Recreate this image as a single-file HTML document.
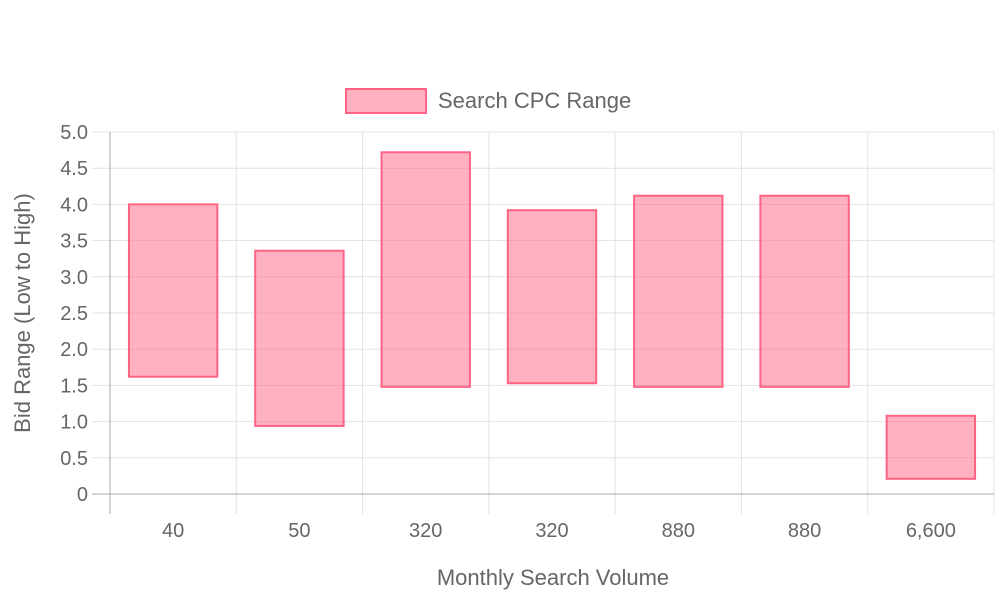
<!DOCTYPE html>
<html><head><meta charset="utf-8"><style>
html,body{margin:0;padding:0;background:#fff;}
svg{display:block;font-family:"Liberation Sans",sans-serif;}
</style></head><body>
<svg id="chart" width="1000" height="600">
<g id="grid"></g>
<g id="bars"></g>
<g id="axes"></g>
<g>
<rect x="346" y="89" width="80" height="24" fill="rgba(255,99,132,0.5)" stroke="rgb(255,99,132)" stroke-width="2"></rect>
<text x="438" y="108" font-size="22" fill="#666">Search CPC Range</text>
</g>
<text x="553" y="585" font-size="22" fill="#666" text-anchor="middle">Monthly Search Volume</text>
<text transform="translate(30,313) rotate(-90)" font-size="22" fill="#666" text-anchor="middle">Bid Range (Low to High)</text>
</svg>
<script>
const categories = ["40","50","320","320","880","880","6,600"];
const lows = [1.62,0.94,1.48,1.53,1.48,1.48,0.21];
const highs = [4.0,3.36,4.72,3.92,4.12,4.12,1.08];
const yTicks = [0,0.5,1.0,1.5,2.0,2.5,3.0,3.5,4.0,4.5,5.0];
const yTickLabels = ["0","0.5","1.0","1.5","2.0","2.5","3.0","3.5","4.0","4.5","5.0"];

const NS="http://www.w3.org/2000/svg";
const X0=110,X1=994,Y0=494,Y1=132,YMAX=5;
const n=categories.length, cw=(X1-X0)/n;
const y=v=>Y0-(v/YMAX)*(Y0-Y1);
const xc=i=>X0+cw*(i+0.5);
function mk(tag,attrs,parent){const e=document.createElementNS(NS,tag);for(const k in attrs)e.setAttribute(k,attrs[k]);parent.appendChild(e);return e;}
const grid=document.getElementById('grid'),bars=document.getElementById('bars'),axes=document.getElementById('axes');
yTicks.forEach((t,i)=>{
  const l=mk('line',{x1:92,x2:X1,y1:y(t),y2:y(t),stroke:i===0?'#aaa':'#e2e2e2','stroke-width':1},i===0?axes:grid);
  
  
  const tx=mk('text',{x:88,y:y(t)+7,'font-size':20,fill:'#666','text-anchor':'end'},axes);
  tx.textContent=yTickLabels[i];
  
  
});
for(let i=0;i<=n;i++){
  const xx=X0+cw*i;
  const l=mk('line',{x1:xx,x2:xx,y1:Y1,y2:514,stroke:i===0?'#aaa':'#e2e2e2','stroke-width':1},i===0?axes:grid);
  
  
}
categories.forEach((c,i)=>{
  const bw=cw*0.7;
  const r=mk('rect',{x:xc(i)-bw/2,y:y(highs[i]),width:bw,height:y(lows[i])-y(highs[i]),fill:'rgba(255,99,132,0.5)',stroke:'rgb(255,99,132)','stroke-width':2},bars);
  
  
  const t=mk('text',{x:xc(i),y:537,'font-size':20,fill:'#666','text-anchor':'middle'},axes);
  t.textContent=c;
  
  
});
</script>
</body></html>
